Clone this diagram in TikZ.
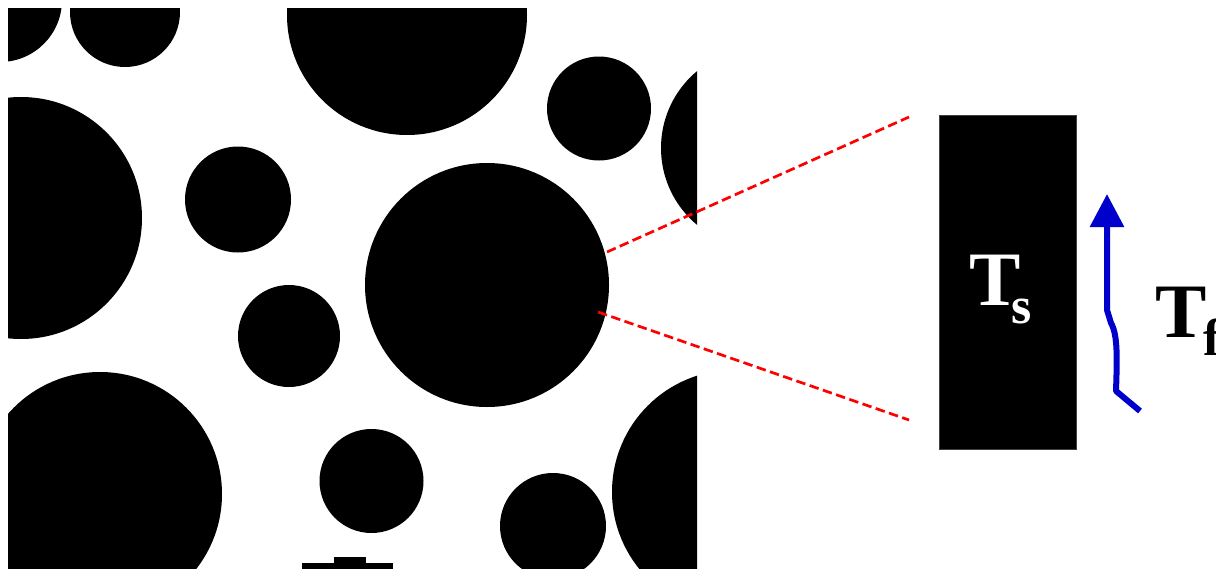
\documentclass[tikz,border=0pt]{standalone}
\usepackage{fontspec}
\setmainfont{Liberation Serif}
\usetikzlibrary{arrows.meta}
\definecolor{flowblue}{RGB}{0,0,204}
\begin{document}
\begin{tikzpicture}[x=1pt,y=-1pt,
  grain/.style={fill=black},
  zoomline/.style={red, line width=2.7pt, dash pattern=on 9.5pt off 4.5pt},
  flow/.style={flowblue, line width=6pt, line join=round, -{Triangle[length=33pt,width=33pt]}},
  bigT/.style={font=\fontsize{77}{77}\selectfont\bfseries, inner sep=0pt, anchor=base},
  subtxt/.style={font=\fontsize{52}{52}\selectfont\bfseries, inner sep=0pt, anchor=base}]
\useasboundingbox (0,0) rectangle (1216,570);
% porous medium
\begin{scope}
  \clip (8,8) rectangle (697,568);
  \fill[grain] (0,0) circle[radius=62pt];
  \fill[grain] (125,12) circle[radius=55pt];
  \fill[grain] (407,15) circle[radius=120pt];
  \fill[grain] (599,108.5) circle[radius=52pt];
  \fill[grain] (761,148) circle[radius=100pt];
  \fill[grain] (21,218) circle[radius=121pt];
  \fill[grain] (238,199.5) circle[radius=53pt];
  \fill[grain] (487,285) circle[radius=122pt];
  \fill[grain] (289,336) circle[radius=51pt];
  \fill[grain] (100,494) circle[radius=122pt];
  \fill[grain] (302,563) rectangle (393,569);
  \fill[grain] (334,557) rectangle (366,564);
  \fill[grain] (371.5,481) circle[radius=52pt];
  \fill[grain] (553,526) circle[radius=53pt];
  \fill[grain] (734,492) circle[radius=122pt];
\end{scope}
% zoom lines
\coordinate (g1) at (607,252);
\coordinate (g2) at (598,312);
\coordinate (z1) at (909,117);
\coordinate (z2) at (909,420);
\draw[zoomline] (g1) -- (z1);
\draw[zoomline] (g2) -- (z2);
% solid block
\node[fill=black, draw=black!75, line width=0.8pt, minimum width=137pt, minimum height=334pt, inner sep=0pt] (solid) at (1007.5,282) {};
\node[bigT, white] (Ts) at (995,305) {T};
\node[subtxt, white] (Tss) at (1022,323) {s};
% fluid
\coordinate (fstart) at (1140,411);
\coordinate (ftip) at (1107,194);
\draw[flow] (fstart) -- (1116,391) .. controls (1117,360) and (1118,335) .. (1111,323) -- (1107,310) -- (ftip);
\node[bigT] (Tf) at (1181,337) {T};
\node[subtxt, anchor=base west] (Tff) at (1203,355) {f};
\end{tikzpicture}
\end{document}
